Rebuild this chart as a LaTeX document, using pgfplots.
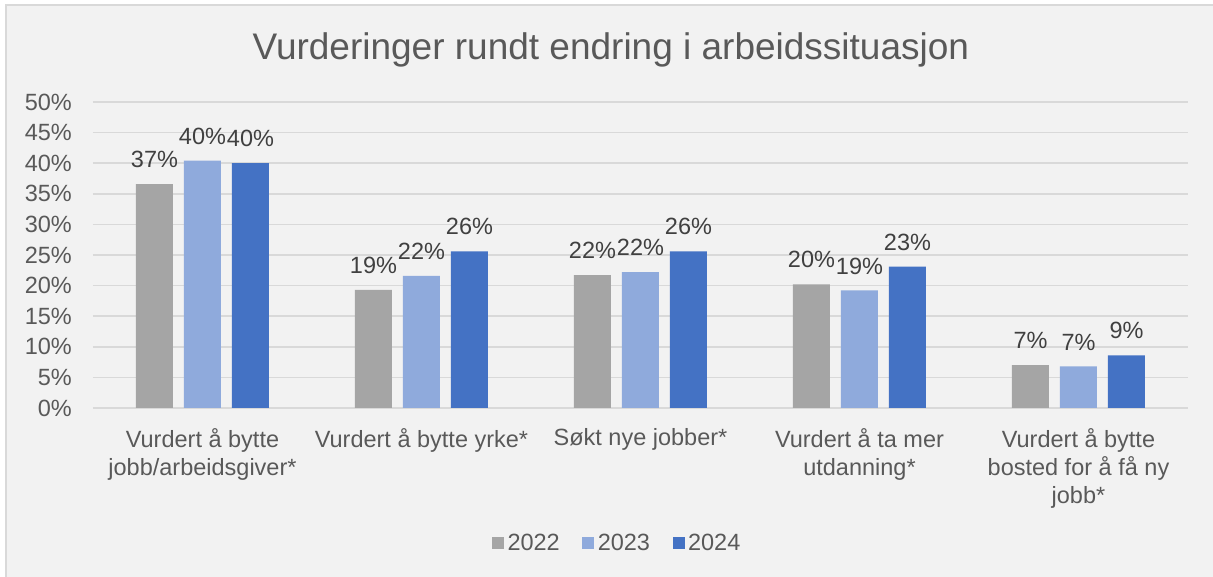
\documentclass[border=0pt]{standalone}
\usepackage{fontspec}
\setmainfont{Liberation Sans}
\usepackage{pgfplots}
\pgfplotsset{compat=1.18}
\definecolor{c22}{HTML}{A5A5A5}
\definecolor{c23}{HTML}{8FAADC}
\definecolor{c24}{HTML}{4472C4}
\definecolor{txt}{HTML}{595959}
\definecolor{lbl}{HTML}{404040}
\definecolor{gridc}{HTML}{D9D9D9}
\definecolor{bg}{HTML}{F2F2F2}
\begin{document}
\begin{tikzpicture}
\path[fill=white] (-93pt,-169pt) rectangle (1120pt,408pt);
\begin{scope}
\clip (-93pt,-169pt) rectangle (1120pt,408pt);
\draw[draw=gridc, line width=2pt, fill=bg] (-87pt,403pt) rectangle (1130pt,-180pt);
\end{scope}
\begin{axis}[
  at={(0pt,0pt)}, anchor=south west,
  scale only axis, width=1095pt, height=306pt,
  xmin=-0.5, xmax=4.5, ymin=0, ymax=50,
  ybar=11pt, bar width=37pt,
  axis line style={draw=none},
  major tick length=0pt,
  ymajorgrids, grid style={draw=gridc, line width=1.5pt},
  ytick={0,5,...,50},
  yticklabel={\pgfmathprintnumber{\tick}\%},
  /pgf/number format/assume math mode=true,
  yticklabel style={font=\fontsize{23.5}{28}\selectfont, text=txt, anchor=east, inner sep=0pt, xshift=-21pt},
  xtick={0,1,2,3,4},
  xticklabels={{Vurdert å bytte\\jobb/arbeidsgiver*},{Vurdert å bytte yrke*},{Søkt nye jobber*},{Vurdert å ta mer\\utdanning*},{Vurdert å bytte\\bosted for å få ny\\jobb*}},
  xticklabel style={font=\fontsize{23.5}{28}\selectfont, text=txt, align=center, anchor=north, inner sep=0pt, yshift=-20pt},
  title={Vurderinger rundt endring i arbeidssituasjon},
  title style={font=\fontsize{37}{44}\selectfont, text=txt, at={(axis description cs:0.473,1.150)}, anchor=center},
  nodes near coords={\pgfmathprintnumber[fixed,precision=0]{\pgfplotspointmeta}\%},
  every node near coord/.append style={font=\fontsize{23.5}{28}\selectfont, text=lbl, inner sep=0pt, yshift=16pt},
  clip=false,
  legend image code/.code={\fill[#1] (0pt,-6pt) rectangle (12pt,6pt);},
  legend style={draw=none, fill=none, inner sep=0pt, outer sep=0pt,
    font=\fontsize{23.5}{28}\selectfont, text=txt, legend columns=-1,
    at={(axis description cs:0.3644,-0.441)}, anchor=west,
    /tikz/every even column/.append style={column sep=19pt},
    nodes={inner sep=3.5pt}},
]
\addplot[fill=c22, draw=none] coordinates {(0,36.6) (1,19.3) (2,21.7) (3,20.2) (4,7.0)};
\addplot[fill=c23, draw=none] coordinates {(0,40.4) (1,21.6) (2,22.2) (3,19.2) (4,6.8)};
\addplot[fill=c24, draw=none] coordinates {(0,40.0) (1,25.6) (2,25.6) (3,23.1) (4,8.6)};
\legend{2022,2023,2024}
\end{axis}
\pgfresetboundingbox
\useasboundingbox (-93pt,-169pt) rectangle (1120pt,408pt);
\end{tikzpicture}
\end{document}
